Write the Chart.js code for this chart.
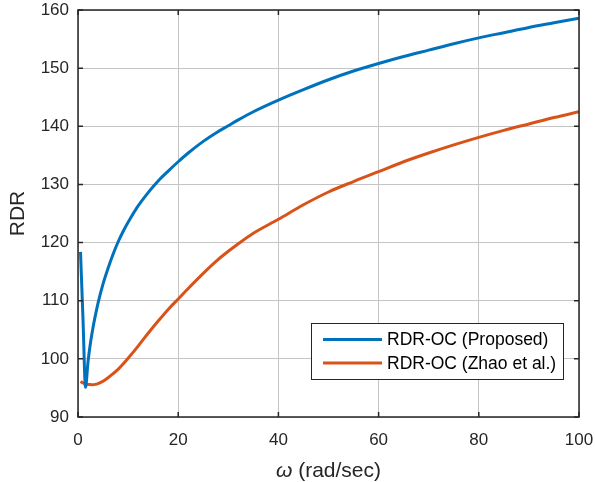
<!DOCTYPE html>
<html>
<head>
<meta charset="utf-8">
<script src="https://cdn.jsdelivr.net/npm/chart.js@4"></script>
<style>
  html, body { margin: 0; padding: 0; background: #fff; }
  #wrap { width: 595px; height: 482px; }
</style>
</head>
<body>
<div id="wrap"><canvas id="c1" width="595" height="482"></canvas></div>
<script>
  // data
  var omega = [0.5, 1, 1.5, 2, 2.5, 3, 3.5, 4, 5, 6, 7, 8, 9, 10, 12, 14, 16, 18, 20, 22, 25, 28, 30, 32, 35, 40, 45, 50, 55, 60, 65, 70, 75, 80, 85, 90, 95, 100]
  var rdrProposed = [118.4, 106.8, 95.1, 99.5, 102.8, 105.4, 107.6, 109.6, 112.9, 115.6, 118.0, 120.1, 121.9, 123.5, 126.3, 128.6, 130.6, 132.3, 133.9, 135.4, 137.4, 139.1, 140.1, 141.1, 142.5, 144.5, 146.3, 148.0, 149.5, 150.8, 152.0, 153.1, 154.2, 155.2, 156.1, 157.0, 157.8, 158.6]
  var rdrZhao = [96.1, 95.85, 95.7, 95.6, 95.57, 95.55, 95.62, 95.75, 96.15, 96.75, 97.45, 98.2, 99.1, 100.1, 102.2, 104.4, 106.5, 108.5, 110.3, 112.1, 114.7, 117.1, 118.5, 119.8, 121.6, 124.0, 126.5, 128.7, 130.5, 132.2, 133.9, 135.4, 136.8, 138.1, 139.3, 140.4, 141.5, 142.5]
  var seriesLabels = ['RDR-OC (Proposed)', 'RDR-OC (Zhao et al.)']
  var xTicks = [0, 20, 40, 60, 80, 100]
  var yTicks = [90, 100, 110, 120, 130, 140, 150, 160]

  var axisColor = '#262626'
  var font = 'Liberation Sans, Arial, Helvetica, sans-serif'

  function toPoints(xs, ys) {
    return xs.map(function(x, i) { return { x: x, y: ys[i] } })
  }

  // box, inward ticks, axis titles and legend like matlab
  var matlabFrame = {
    id: 'matlabFrame',
    afterDraw: function(chart) {
      var ctx = chart.ctx
      var a = chart.chartArea
      var xs = chart.scales.x
      var ys = chart.scales.y
      ctx.save()
      ctx.strokeStyle = axisColor
      ctx.lineWidth = 1.5
      ctx.strokeRect(a.left, a.top, a.right - a.left, a.bottom - a.top)
      ctx.beginPath()
      xTicks.forEach(function(t) {
        var px = xs.getPixelForValue(t)
        ctx.moveTo(px, a.bottom); ctx.lineTo(px, a.bottom - 5)
        ctx.moveTo(px, a.top); ctx.lineTo(px, a.top + 5)
      })
      yTicks.forEach(function(t) {
        var py = ys.getPixelForValue(t)
        ctx.moveTo(a.left, py); ctx.lineTo(a.left + 5, py)
        ctx.moveTo(a.right, py); ctx.lineTo(a.right - 5, py)
      })
      ctx.stroke()

      // axis titles
      ctx.fillStyle = axisColor
      ctx.textBaseline = 'middle'
      var cx = (a.left + a.right) / 2
      ctx.font = 'italic 21px ' + font
      var w1 = ctx.measureText('\u03c9').width
      ctx.font = '21px ' + font
      var w2 = ctx.measureText(' (rad/sec)').width
      var sx = cx - (w1 + w2) / 2
      ctx.textAlign = 'left'
      ctx.font = 'italic 21px ' + font
      ctx.fillText('\u03c9', sx, 471)
      ctx.font = '21px ' + font
      ctx.fillText(' (rad/sec)', sx + w1, 471)

      ctx.save()
      ctx.translate(18, (a.top + a.bottom) / 2)
      ctx.rotate(-Math.PI / 2)
      ctx.textAlign = 'center'
      ctx.fillText('RDR', 0, 0)
      ctx.restore()

      // legend
      var lx = 311, ly = 323, lw = 252, lh = 56
      ctx.fillStyle = '#fff'
      ctx.fillRect(lx, ly, lw, lh)
      ctx.strokeStyle = '#262626'
      ctx.lineWidth = 1
      ctx.strokeRect(lx + 0.5, ly + 0.5, lw, lh)
      ctx.font = '17.5px ' + font
      ctx.textAlign = 'left'
      chart.data.datasets.forEach(function(ds, i) {
        var yy = ly + 16.5 + i * 23.5
        ctx.strokeStyle = ds.borderColor
        ctx.lineWidth = 3
        ctx.beginPath()
        ctx.moveTo(lx + 12, yy); ctx.lineTo(lx + 71, yy)
        ctx.stroke()
        ctx.fillStyle = '#000'
        ctx.fillText(ds.label, lx + 76, yy + 1)
      })
      ctx.restore()
    }
  }

  var ctx = document.getElementById('c1')
  var chart1 = new Chart(ctx, {
    type: 'line',
    data: {
      datasets: [{
        label: seriesLabels[0],
        data: toPoints(omega, rdrProposed),
        borderColor: '#0072BD',
        borderWidth: 3,
        pointRadius: 0,
        cubicInterpolationMode: 'monotone',
        fill: false
      }, {
        label: seriesLabels[1],
        data: toPoints(omega, rdrZhao),
        borderColor: '#D95319',
        borderWidth: 3,
        pointRadius: 0,
        cubicInterpolationMode: 'monotone',
        fill: false
      }]
    },
    options: {
      responsive: false,
      animation: false,
      layout: { padding: { left: 0, top: 10, right: 16, bottom: 0 } },
      plugins: { legend: { display: false }, tooltip: { enabled: false } },
      scales: {
        x: {
          type: 'linear',
          min: 0,
          max: 100,
          afterBuildTicks: function(s) { s.ticks = xTicks.map(function(v) { return { value: v } }) },
          afterFit: function(s) { s.height = 65; s.paddingLeft = 0; s.paddingRight = 0 },
          grid: { color: '#c4c4c4', lineWidth: 1, drawTicks: false },
          border: { display: false },
          ticks: { color: axisColor, font: { family: font, size: 17 }, padding: 13, maxRotation: 0 }
        },
        y: {
          type: 'linear',
          min: 90,
          max: 160,
          afterBuildTicks: function(s) { s.ticks = yTicks.map(function(v) { return { value: v } }) },
          afterFit: function(s) { s.width = 78; s.paddingTop = 0; s.paddingBottom = 0 },
          grid: { color: '#c4c4c4', lineWidth: 1, drawTicks: false },
          border: { display: false },
          ticks: { color: axisColor, font: { family: font, size: 17 }, padding: 9 }
        }
      }
    },
    plugins: [matlabFrame]
  })
</script>
</body>
</html>
